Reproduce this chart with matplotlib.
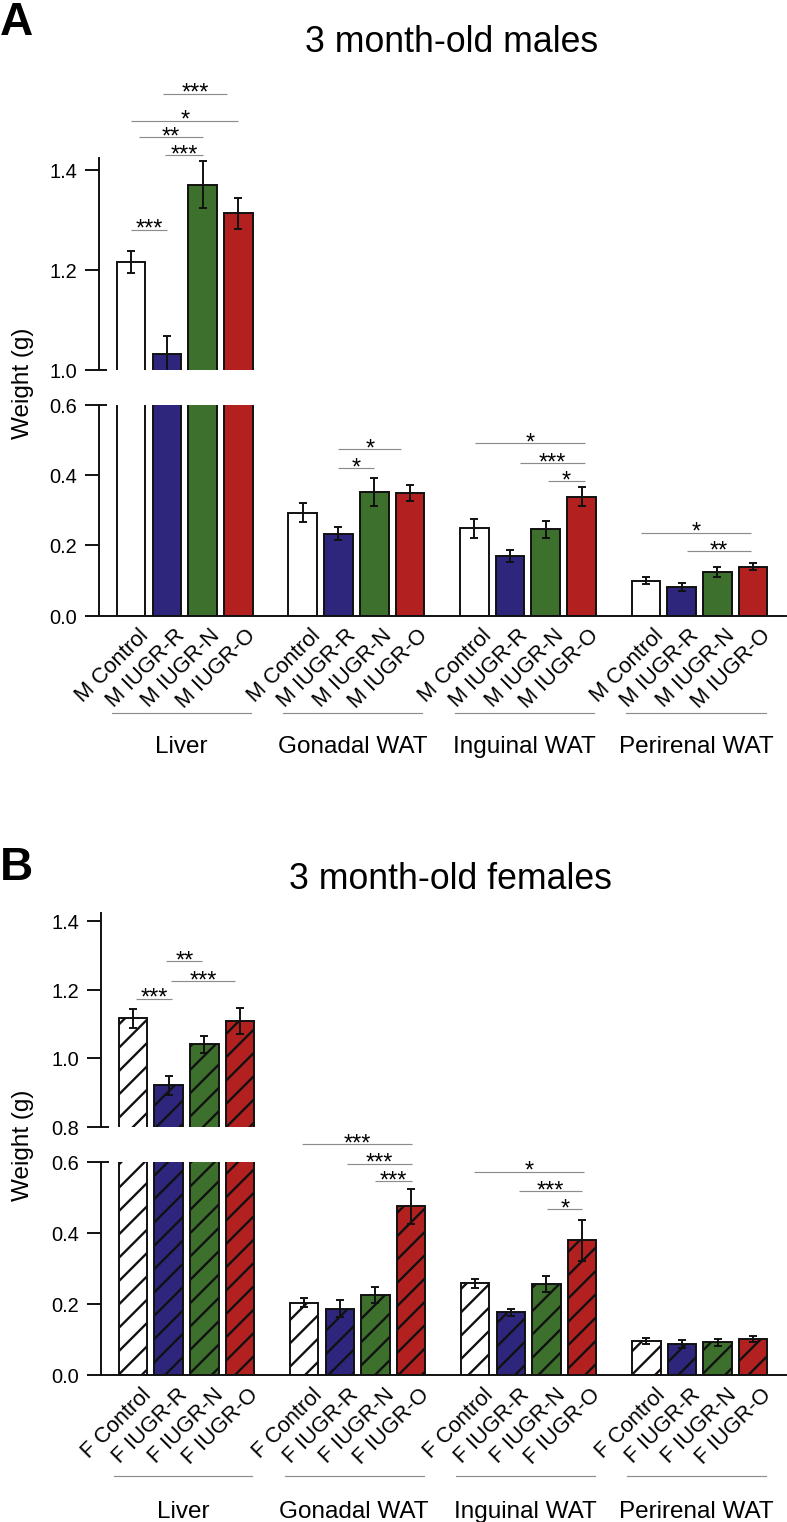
import matplotlib
matplotlib.use("Agg")
import matplotlib.pyplot as plt
import matplotlib.transforms as mtransforms
from matplotlib.ticker import FormatStrFormatter
import numpy as np

# ---------------- data ----------------
groups = ["Liver", "Gonadal WAT", "Inguinal WAT", "Perirenal WAT"]
conditions = ["Control", "IUGR-R", "IUGR-N", "IUGR-O"]
bar_colors = ["#FFFFFF", "#2E267D", "#3D702D", "#B22020"]

# males (g)
m_liver = [1.215, 1.032, 1.370, 1.313]
m_liver_err = [0.022, 0.036, 0.047, 0.031]
m_gonadal = [0.293, 0.234, 0.351, 0.349]
m_gonadal_err = [0.027, 0.018, 0.040, 0.022]
m_inguinal = [0.249, 0.170, 0.246, 0.339]
m_inguinal_err = [0.027, 0.017, 0.025, 0.028]
m_perirenal = [0.100, 0.082, 0.124, 0.139]
m_perirenal_err = [0.010, 0.011, 0.015, 0.010]

# females (g)
f_liver = [1.117, 0.921, 1.041, 1.109]
f_liver_err = [0.028, 0.027, 0.024, 0.038]
f_gonadal = [0.204, 0.187, 0.226, 0.475]
f_gonadal_err = [0.012, 0.024, 0.022, 0.050]
f_inguinal = [0.258, 0.176, 0.257, 0.379]
f_inguinal_err = [0.012, 0.011, 0.022, 0.058]
f_perirenal = [0.096, 0.087, 0.092, 0.102]
f_perirenal_err = [0.009, 0.011, 0.009, 0.008]

# significance brackets: (group index, from bar, to bar, height, label)
m_sig_top = [(0, 0.90, 2.69, 1.552, "***"), (0, 0.00, 3.00, 1.498, "*"),
             (0, 0.22, 2.00, 1.465, "**"), (0, 0.95, 2.00, 1.429, "***"),
             (0, 0.00, 1.00, 1.280, "***")]
m_sig_bot = [(1, 0.99, 2.76, 0.4735, "*"), (1, 0.99, 1.98, 0.420, "*"),
             (2, 0.02, 3.09, 0.490, "*"), (2, 1.27, 3.09, 0.434, "***"),
             (2, 2.06, 3.09, 0.3835, "*"),
             (3, -0.14, 2.94, 0.236, "*"), (3, 1.15, 2.94, 0.183, "**")]
f_sig_top = [(0, 0.93, 1.94, 1.283, "**"), (0, 1.07, 2.85, 1.225, "***"),
             (0, 0.09, 1.10, 1.174, "***")]
f_sig_bot = [(1, -0.06, 3.03, 0.650, "***"), (1, 1.20, 3.03, 0.595, "***"),
             (1, 1.99, 3.03, 0.546, "***"),
             (2, -0.03, 3.05, 0.572, "*"), (2, 1.23, 3.01, 0.517, "***"),
             (2, 2.02, 3.01, 0.467, "*")]

# ---------------- style ----------------
plt.rcParams["font.family"] = ["Liberation Sans", "DejaVu Sans"]
plt.rcParams["hatch.linewidth"] = 1.2

DPI = 140
W, H = 787, 1522
fig = plt.figure(figsize=((W + 0.3) / DPI, (H + 0.3) / DPI), dpi=DPI)

GROUP_STEP = 4.8
XLIM = (-0.9, 18.33)
EDGE = "#111111"
SIGC = "#8c8c8c"


def fx(px):
    return px / W


def fy(px):
    return 1 - px / H


def make_axes(left_px, top_px, bottom_px, right_px=786):
    return fig.add_axes([fx(left_px), fy(bottom_px), fx(right_px - left_px),
                         (bottom_px - top_px) / H])


def draw_bars(ax, means, errs, hatch):
    for g in range(4):
        xs = g * GROUP_STEP + np.arange(4)
        ax.bar(xs, means[g], width=0.8, color=bar_colors, edgecolor=EDGE,
               linewidth=1.0, hatch=hatch, zorder=2)
        ax.errorbar(xs, means[g], yerr=errs[g], fmt="none", ecolor=EDGE,
                    elinewidth=1.0, capsize=1.9, capthick=1.0, zorder=3)
    ax.set_xlim(*XLIM)


def break_mark(ax, y):
    ax.plot([0, 8 / 686], [y, y], transform=ax.get_yaxis_transform(),
            color=EDGE, lw=1.0, clip_on=False, solid_capstyle="butt", zorder=5)


def add_sig(ax, items):
    for g, a, b, y, lab in items:
        base = g * GROUP_STEP
        ax.plot([base + a, base + b], [y, y], color=SIGC, lw=0.6,
                clip_on=False, solid_capstyle="butt", zorder=4)
        ax.annotate(lab, xy=(base + (a + b) / 2, y), xytext=(0, -3),
                    textcoords="offset points", ha="center", va="baseline",
                    fontsize=12, annotation_clip=False)


def style_y(ax):
    ax.tick_params(axis="y", direction="out", length=7.2, width=1.0, pad=4,
                   labelsize=10.3, color=EDGE)
    ax.yaxis.set_major_formatter(FormatStrFormatter("%.1f"))
    ax.spines["left"].set_linewidth(1.0)
    ax.spines["left"].set_color(EDGE)
    ax.patch.set_alpha(0)


def panel(top_box, bot_box, left_px, means, errs, hatch, top_lim, top_ticks,
          sig_top, sig_bot, prefix, line_y, name_y, label_dx_px, label_pad):
    ax_t = make_axes(left_px, top_box[0], top_box[1])
    ax_b = make_axes(left_px, bot_box[0], bot_box[1])
    for ax in (ax_t, ax_b):
        draw_bars(ax, means, errs, hatch)
        style_y(ax)
        ax.spines["top"].set_visible(False)
        ax.spines["right"].set_visible(False)
    ax_t.spines["bottom"].set_visible(False)
    ax_t.set_xticks([])
    ax_t.set_ylim(*top_lim)
    ax_t.set_yticks(top_ticks)
    ax_b.set_ylim(0, 0.6)
    ax_b.set_yticks([0.0, 0.2, 0.4, 0.6])
    ax_b.spines["bottom"].set_linewidth(1.0)
    ax_b.spines["bottom"].set_color(EDGE)
    break_mark(ax_t, top_lim[0])
    break_mark(ax_b, 0.6)

    xs = [g * GROUP_STEP + i for g in range(4) for i in range(4)]
    labs = [prefix + " " + c for g in range(4) for c in conditions]
    ax_b.set_xticks(xs)
    ax_b.set_xticklabels(labs, rotation=45, ha="right", va="top",
                         rotation_mode="anchor", fontsize=11.2)
    ax_b.tick_params(axis="x", length=0, pad=label_pad)
    off = mtransforms.ScaledTranslation(label_dx_px / DPI, 0, fig.dpi_scale_trans)
    for t in ax_b.get_xticklabels():
        t.set_transform(t.get_transform() + off)

    add_sig(ax_t, sig_top)
    add_sig(ax_b, sig_bot)

    tr = mtransforms.blended_transform_factory(ax_b.transData, fig.transFigure)
    for g, name in enumerate(groups):
        c = g * GROUP_STEP + 1.5 - 0.1
        ax_b.plot([c - 1.95, c + 1.95], [fy(line_y), fy(line_y)], transform=tr,
                  color=SIGC, lw=0.6, clip_on=False)
        ax_b.text(c, fy(name_y), name, transform=tr, ha="center",
                  va="baseline", fontsize=12.5)
    return ax_t, ax_b


# Panel A (males)
panel((158, 370), (405, 616), 99,
      [m_liver, m_gonadal, m_inguinal, m_perirenal],
      [m_liver_err, m_gonadal_err, m_inguinal_err, m_perirenal_err],
      None, (1.0, 1.424), [1.0, 1.2, 1.4], m_sig_top, m_sig_bot, "M",
      713, 753, 7, 4.6)

# Panel B (females)
panel((913, 1127), (1162, 1375), 101,
      [f_liver, f_gonadal, f_inguinal, f_perirenal],
      [f_liver_err, f_gonadal_err, f_inguinal_err, f_perirenal_err],
      "//", (0.8, 1.4245), [0.8, 1.0, 1.2, 1.4], f_sig_top, f_sig_bot, "F",
      1476, 1518, 8, 5.0)

# Titles, panel letters, y labels
fig.text(fx(451), fy(42), "3 month-old males", ha="center", va="center",
         fontsize=18.3)
fig.text(fx(450), fy(879), "3 month-old females", ha="center", va="center",
         fontsize=18.3)
fig.text(fx(0), fy(1), "A", ha="left", va="top", fontsize=23.7,
         fontweight="bold")
fig.text(fx(0), fy(846), "B", ha="left", va="top", fontsize=23.7,
         fontweight="bold")
fig.text(fx(23), fy(383), "Weight (g)", rotation=90, ha="center", va="center",
         fontsize=12.5)
fig.text(fx(23), fy(1145), "Weight (g)", rotation=90, ha="center", va="center",
         fontsize=12.5)

fig.savefig("out.png", dpi=DPI, facecolor="white")
